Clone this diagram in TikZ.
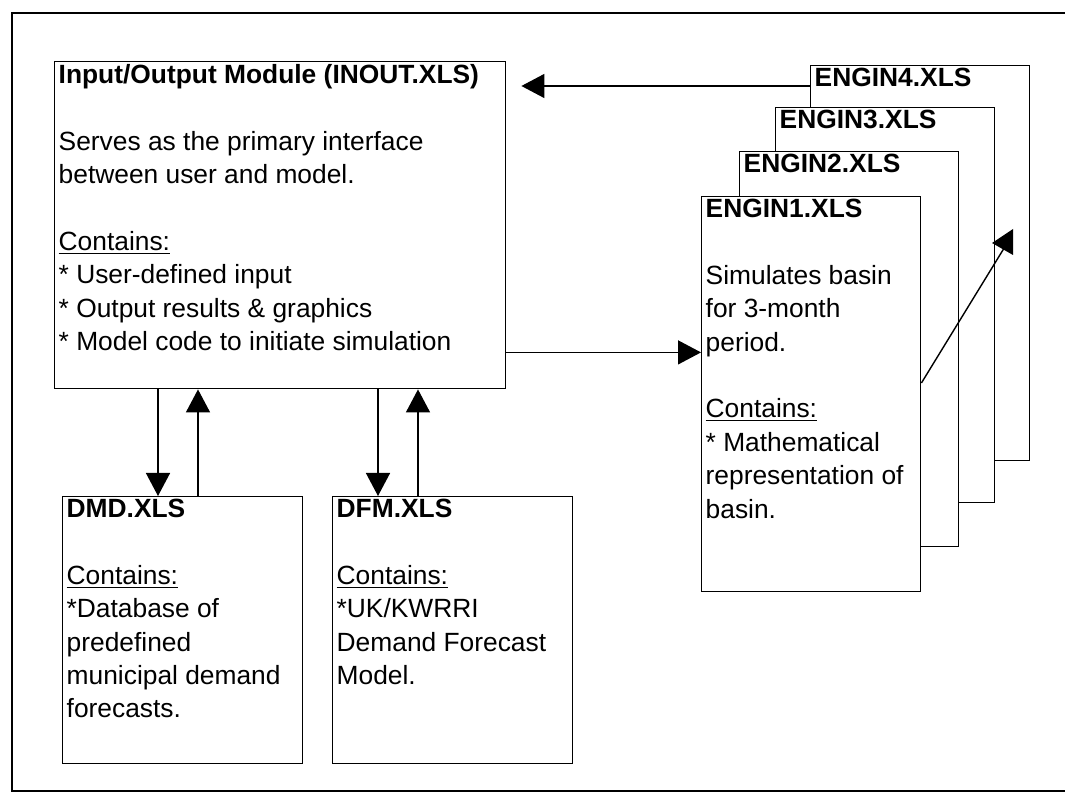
\documentclass[tikz,border=0pt]{standalone}
\usepackage{fontspec}
\setmainfont{Liberation Sans}
\usetikzlibrary{arrows.meta,calc}

% text block of a workbook, set from the top
\newcommand{\xlsbox}[3]{\parbox[c][#2][t]{#1}{\raggedright #3}}

\tikzset{
	module/.style={draw, fill=white, line width=0.8pt, anchor=north west, inner xsep=0.08cm, inner ysep=0.05cm},
	arr/.style={-{Triangle[length=0.46cm,width=0.48cm]}, line width=0.8pt},
}

\begin{document}
\begin{tikzpicture}[font=\fontsize{15}{19}\selectfont]
		\useasboundingbox (0,0) rectangle (21.3,15.9);
		\draw[line width=0.8pt] (21.3,15.64) -- (0.24,15.64) -- (0.24,0.08) -- (21.3,0.08);

		%main workbook
		\node[module] (inout) at (1.08,14.68) {\xlsbox{8.86cm}{6.44cm}{%
			\textbf{Input/Output Module (INOUT.XLS)}\\[19pt]
			Serves as the primary interface\\
			between user and model.\\[19pt]
			\underline{Contains:}\\
			{*} User-defined input\\
			{*} Output results \& graphics\\
			{*} Model code to initiate simulation}};

		\node[module] (dmd) at (1.24,5.98) {\xlsbox{4.64cm}{5.24cm}{%
			\textbf{DMD.XLS}\\[19pt]
			\underline{Contains:}\\
			{*}Database of\\
			predefined\\
			municipal demand\\
			forecasts.}};

		\node[module] (dfm) at (6.64,5.98) {\xlsbox{4.64cm}{5.24cm}{%
			\textbf{DFM.XLS}\\[19pt]
			\underline{Contains:}\\
			{*}UK/KWRRI\\
			Demand Forecast\\
			Model.}};

		%engine sheets, back to front
		\foreach \n/\x/\y in {4/16.2/14.6, 3/15.5/13.76, 2/14.78/12.88}{
			\node[module] (engin\n) at (\x,\y) {\xlsbox{4.22cm}{7.8cm}{\textbf{ENGIN\n.XLS}}};
		}
		\node[module] (engin1) at (14.02,11.98) {\xlsbox{4.22cm}{7.8cm}{%
			\textbf{ENGIN1.XLS}\\[19pt]
			Simulates basin\\
			for 3-month\\
			period.\\[19pt]
			\underline{Contains:}\\
			{*} Mathematical\\
			representation of\\
			basin.}};

		%links
		\coordinate (back) at ([yshift=-0.42cm]engin4.north west);
		\draw[arr] (back) -- ($(back -| inout.east)+(0.3,0)$);
		\coordinate (out) at ([yshift=0.74cm]inout.south east);
		\draw[arr] (out) -- (out -| engin1.west);

		\coordinate (dmdin) at ([xshift=1.92cm]dmd.north west);
		\coordinate (dmdout) at ([xshift=2.72cm]dmd.north west);
		\draw[arr] (dmdin |- inout.south) -- (dmdin);
		\draw[arr] (dmdout) -- (dmdout |- inout.south);

		\coordinate (dfmin) at ([xshift=0.92cm]dfm.north west);
		\coordinate (dfmout) at ([xshift=1.72cm]dfm.north west);
		\draw[arr] (dfmin |- inout.south) -- (dfmin);
		\draw[arr] (dfmout) -- (dfmout |- inout.south);

		%next period
		\coordinate (next) at (19.84,11.04);
		\draw[line width=0.8pt] ([yshift=-3.74cm]engin1.north east) -- ($(next)+(0.28,-0.04)$);
		\fill (next) -- ++(0.42,0.28) -- ++(0,-0.52) -- cycle;

	\end{tikzpicture}
\end{document}
